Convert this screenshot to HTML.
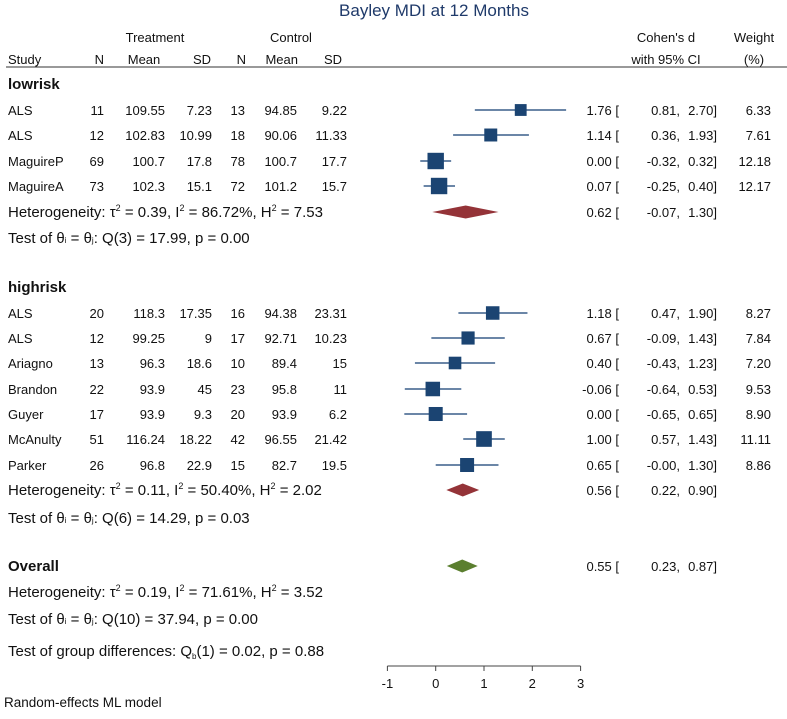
<!DOCTYPE html>
<html><head><meta charset="utf-8"><style>
body{margin:0;background:#fff;}
svg text{font-family:"Liberation Sans",sans-serif;font-size:13px;fill:#111;}
svg text.big{font-size:15px;}
</style></head><body>
<svg id="c" width="787" height="714" xmlns="http://www.w3.org/2000/svg">
<text x="434" y="16" text-anchor="middle" style="font-size:17px;fill:#1f3a6a">Bayley MDI at 12 Months</text>
<g>
<text x="155" y="42" text-anchor="middle">Treatment</text>
<text x="291" y="42" text-anchor="middle">Control</text>
<text x="8" y="64">Study</text>
<text x="104" y="64" text-anchor="end">N</text>
<text x="144" y="64" text-anchor="middle">Mean</text>
<text x="211" y="64" text-anchor="end">SD</text>
<text x="246" y="64" text-anchor="end">N</text>
<text x="298" y="64" text-anchor="end">Mean</text>
<text x="333" y="64" text-anchor="middle">SD</text>
<text x="666" y="42" text-anchor="middle">Cohen's d</text>
<text x="666" y="64" text-anchor="middle">with 95% CI</text>
<text x="754" y="42" text-anchor="middle">Weight</text>
<text x="754" y="64" text-anchor="middle">(%)</text>
</g>
<line x1="6" x2="787" y1="67" y2="67" stroke="#333" stroke-width="1"/>
<g id="rows"></g>
<g id="axis"></g>
<text x="4" y="707" style="font-size:13.5px">Random-effects ML model</text>
</svg>
<script>
const studies=["ALS","ALS","MaguireP","MaguireA","ALS","ALS","Ariagno","Brandon","Guyer","McAnulty","Parker"];
const groupOf=[0,0,0,0,1,1,1,1,1,1,1];
const tN=[11,12,69,73,20,12,13,22,17,51,26];
const tMean=["109.55","102.83","100.7","102.3","118.3","99.25","96.3","93.9","93.9","116.24","96.8"];
const tSD=["7.23","10.99","17.8","15.1","17.35","9","18.6","45","9.3","18.22","22.9"];
const cN=[13,18,78,72,16,17,10,23,20,42,15];
const cMean=["94.85","90.06","100.7","101.2","94.38","92.71","89.4","95.8","93.9","96.55","82.7"];
const cSD=["9.22","11.33","17.7","15.7","23.31","10.23","15","11","6.2","21.42","19.5"];
const effect=[1.76,1.14,0.00,0.07,1.18,0.67,0.40,-0.06,0.00,1.00,0.65];
const ciLo=[0.81,0.36,-0.32,-0.25,0.47,-0.09,-0.43,-0.64,-0.65,0.57,-0.00];
const ciHi=[2.70,1.93,0.32,0.40,1.90,1.43,1.23,0.53,0.65,1.43,1.30];
const weight=[6.33,7.61,12.18,12.17,8.27,7.84,7.20,9.53,8.90,11.11,8.86];
const groupNames=["lowrisk","highrisk"];
const groupEff=[0.62,0.56];
const groupLo=[-0.07,0.22];
const groupHi=[1.30,0.90];
const groupHet=[["0.39","86.72%","7.53"],["0.11","50.40%","2.02"]];
const groupQ=[["3","17.99","0.00"],["6","14.29","0.03"]];
const overall=[0.55,0.23,0.87];
const overallHet=["0.19","71.61%","3.52"];
const overallQ=["10","37.94","0.00"];
const groupTest=["1","0.02","0.88"];
const xTicks=[-1,0,1,2,3];

const NS="http://www.w3.org/2000/svg";
const X=v=>435.7+v*48.3;
const rows=document.getElementById('rows');
function el(tag,attrs,parent,txt){const e=document.createElementNS(NS,tag);for(const k in attrs)e.setAttribute(k,attrs[k]);if(txt!==undefined)e.innerHTML=txt;(parent||rows).appendChild(e);return e;}
const f2=v=>(v<0||Object.is(v,-0)?"-":"")+Math.abs(v).toFixed(2);
function ciText(y,e,lo,hi,w,g){
  let t=el('text',{x:619,y:y,'text-anchor':'end'},g,f2(e)+" [");
  
  el('text',{x:680,y:y,'text-anchor':'end'},g,f2(lo)+",");
  el('text',{x:717,y:y,'text-anchor':'end'},g,f2(hi)+"]");
  if(w!==undefined){let tw=el('text',{x:771,y:y,'text-anchor':'end'},g,w.toFixed(2));
  }
}
function diamond(y,e,lo,hi,color,name){
  let d=el('polygon',{points:`${X(lo)},${y} ${X(e)},${y-6.5} ${X(hi)},${y} ${X(e)},${y+6.5}`,fill:color});
  
}
const groupRowY=[[110,135,161,186],[313,338,363,389,414,439,465]];
const groupHeadY=[84,287];
const hetY=[212,490];
const testY=[238,518];
const colsX=[104,165,212,245,297,347];
const sup=v=>`<tspan dy="-6" font-size="9">2</tspan><tspan dy="6">${v}</tspan>`;
for(let g=0;g<2;g++){
  let h=el('text',{class:'big',x:8,y:groupHeadY[g]+5,'font-weight':'bold'},rows,groupNames[g]);
  
  let k=0;
  for(let i=0;i<studies.length;i++){if(groupOf[i]!==g)continue;
    const y=groupRowY[g][k++];const ty=y+5;
    const gr=el('g',{},rows);
    
    
    el('text',{x:8,y:ty},gr,studies[i]);
    [tN[i],tMean[i],tSD[i],cN[i],cMean[i],cSD[i]].forEach((v,j)=>el('text',{x:colsX[j],y:ty,'text-anchor':'end'},gr,v));
    el('line',{x1:X(ciLo[i]),x2:X(ciHi[i]),y1:y,y2:y,stroke:'#3a5f8a','stroke-width':1.6},gr);
    const s=4.7*Math.sqrt(weight[i]);
    let sq=el('rect',{x:X(effect[i])-s/2,y:y-s/2,width:s,height:s,fill:'#1b4472'},gr);
    
    ciText(ty,effect[i],ciLo[i],ciHi[i],weight[i],gr);
  }
  const hg=groupHet[g];
  el('text',{class:'big',x:8,y:hetY[g]+5},rows,`Heterogeneity: τ${sup(` = ${hg[0]}, I`)}${sup(` = ${hg[1]}, H`)}${sup(` = ${hg[2]}`)}`);
  diamond(hetY[g],groupEff[g],groupLo[g],groupHi[g],'#943338','group-diamond-'+groupNames[g]);
  ciText(hetY[g]+5,groupEff[g],groupLo[g],groupHi[g],undefined,rows);
  const q=groupQ[g];
  el('text',{class:'big',x:8,y:testY[g]+5},rows,`Test of θ<tspan font-size="8">i</tspan> = θ<tspan font-size="8">j</tspan>: Q(${q[0]}) = ${q[1]}, p = ${q[2]}`);
}
let ov=el('text',{class:'big',x:8,y:571,'font-weight':'bold'},rows,'Overall');

diamond(566,overall[0],overall[1],overall[2],'#5b7f2f','overall-diamond');
ciText(571,overall[0],overall[1],overall[2],undefined,rows);
el('text',{class:'big',x:8,y:597},rows,`Heterogeneity: τ${sup(` = ${overallHet[0]}, I`)}${sup(` = ${overallHet[1]}, H`)}${sup(` = ${overallHet[2]}`)}`);
el('text',{class:'big',x:8,y:624},rows,`Test of θ<tspan font-size="8">i</tspan> = θ<tspan font-size="8">j</tspan>: Q(${overallQ[0]}) = ${overallQ[1]}, p = ${overallQ[2]}`);
el('text',{class:'big',x:8,y:656},rows,`Test of group differences: Q<tspan font-size="8" dy="3">b</tspan><tspan dy="-3">(${groupTest[0]}) = ${groupTest[1]}, p = ${groupTest[2]}</tspan>`);
const ax=document.getElementById('axis');
el('line',{x1:X(xTicks[0]),x2:X(xTicks[xTicks.length-1]),y1:666,y2:666,stroke:'#444','stroke-width':1},ax);
xTicks.forEach(t=>{
  el('line',{x1:X(t),x2:X(t),y1:666,y2:671,stroke:'#444','stroke-width':1},ax);
  let tl=el('text',{x:X(t),y:688,'text-anchor':'middle'},ax,String(t));
  
});
</script>
</body></html>
